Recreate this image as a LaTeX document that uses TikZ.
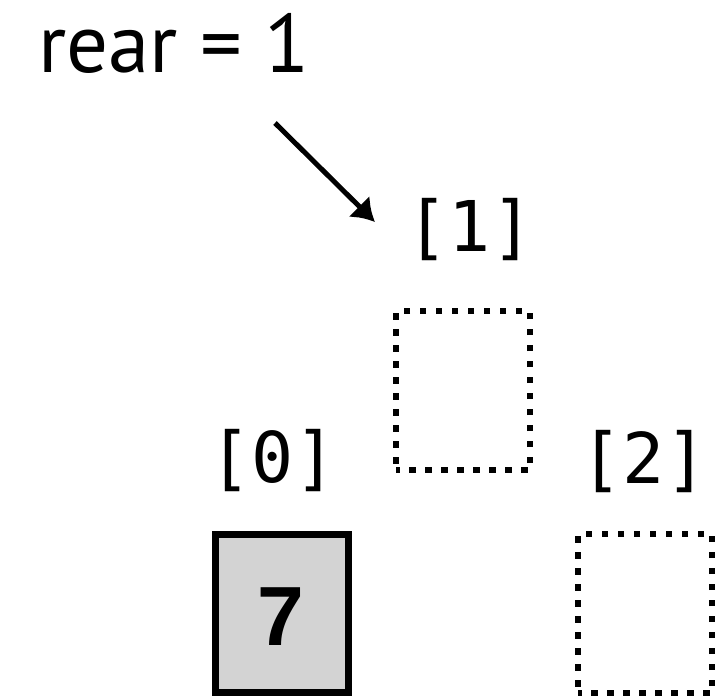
\documentclass[tikz,border=0pt]{standalone}
\usepackage{fontspec}
\setmainfont{PT Sans}
\newfontfamily\idxfont{DejaVu Sans Mono}
\newfontfamily\valfont{Liberation Sans}
\usepackage{tikz}
\usetikzlibrary{arrows.meta}
\definecolor{cellgray}{RGB}{211,211,211}

\begin{document}
\begin{tikzpicture}[
x=1pt, y=-1pt,
FullCell/.style={draw=black,fill=cellgray,line width=7pt,inner sep=0pt,minimum width=133pt,minimum height=158pt},
EmptyCell/.style={draw=black,line width=6.5pt,dash pattern=on 6.5pt off 9.5pt,dash phase=3pt,inner sep=0pt,minimum width=134pt,minimum height=159pt},
Index/.style={anchor=base,inner sep=0pt,font=\idxfont\fontsize{70}{70}\selectfont},
Pointer/.style={-{Latex[length=22pt, width=30pt]},line width=5pt}
]

\useasboundingbox (0,0) rectangle (718,696);

% array cells
\node[FullCell]  (cell0) at (282,613.5) {};
\node[EmptyCell] (cell1) at (463,390.5) {};
\node[EmptyCell] (cell2) at (645,613.5) {};

\node[anchor=base,inner sep=0pt,font=\valfont\bfseries\fontsize{84}{84}\selectfont] (val0) at (281,645) {7};

% indices
\node[Index] (idx0) at (273,482) {[0]};
\node[Index] (idx1) at (470,251) {[1]};
\node[Index] (idx2) at (644,483) {[2]};

% rear pointer
\node[anchor=base west,inner sep=0pt,font=\fontsize{83}{83}\selectfont] (rear) at (38,72) {rear = 1};

\coordinate (RearFrom) at (275,123);
\coordinate (RearTo) at (375,222);
\draw[Pointer] (RearFrom)--(RearTo);

\end{tikzpicture}
\end{document}
